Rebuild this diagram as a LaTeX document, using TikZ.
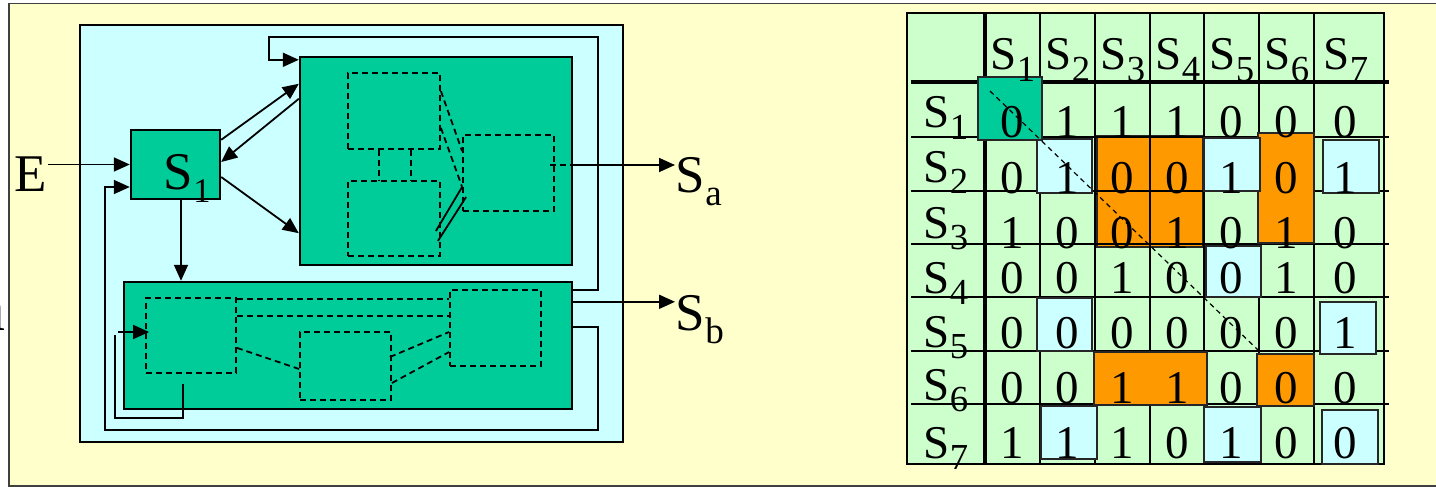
\documentclass[tikz,border=0pt]{standalone}
\usepackage{fontspec}
\setmainfont{Liberation Serif}
\usepackage{graphicx}
\usetikzlibrary{arrows.meta,fit}
\definecolor{paper}{HTML}{FFFFCC}
\definecolor{sky}{HTML}{CCFFFF}
\definecolor{sgreen}{HTML}{00CC99}
\definecolor{mint}{HTML}{CCFFCC}
\definecolor{amber}{HTML}{FF9900}
\newcommand{\ssub}[2][0.7]{\raisebox{-0.25em}{\scalebox{#1}{#2}}}

\begin{document}
\begin{tikzpicture}[x=1pt,y=-1pt,line width=1.8pt,>={Triangle[length=16pt,width=14pt]},
  big/.style={font=\fontsize{53}{53}\selectfont,inner sep=0pt},
  cell/.style={font=\fontsize{47}{47}\selectfont,inner sep=0pt,anchor=base},
  blk/.style={draw,line width=2.4pt,fill=sgreen,inner sep=0pt},
  dsh/.style={dash pattern=on 6pt off 4pt},
  dbox/.style={draw,dsh,inner sep=0pt},
  hl/.style={draw=black!85,line width=1.8pt}]

\useasboundingbox (0,0) rectangle (1436,487);

% ---- slide background ----
\fill[white] (0,0) rectangle (1436,487);
\draw[fill=paper,draw=black!75,line width=1.8pt] (9,3.5) rectangle (1450,486);
\node[font=\fontsize{66}{66}\selectfont,inner sep=0pt,anchor=base east] (nn) at (6,330) {n};

% ---- left panel: blocks ----
\node[draw,line width=2.4pt,fill=sky,inner sep=0pt,fit={(80,25)(623,442)}] (panel) {};
\node[blk,fit={(131,130)(220,199)}] (S1) {};
\node[big,anchor=base west] (s1lab) at (163,189) {S\ssub[0.65]{1}};
\node[blk,fit={(300,57)(572,265)}] (up) {};
\node[blk,fit={(124,282)(572,409)}] (lo) {};

% dashed sub-blocks
\node[dbox,fit={(348,73)(440,149)}] (u1) {};
\node[dbox,fit={(348,181)(440,256)}] (u2) {};
\node[dbox,fit={(463,135)(554,211)}] (u3) {};
\node[dbox,fit={(146,298)(236,373)}] (l1) {};
\node[dbox,fit={(300,332)(391,400)}] (l2) {};
\node[dbox,fit={(450,290)(541,366)}] (l3) {};

% ---- inputs / outputs ----
\node[big,anchor=base west] (in) at (14,191) {E};
\node[big,anchor=base west] (Sa) at (675,192) {S\ssub{a}};
\node[big,anchor=base west] (Sb) at (675,330) {S\ssub{b}};

\draw[->] (in.east |- S1.west) -- (S1.west);
\coordinate (sa0) at ([yshift=-4pt]up.east);
\draw[dsh] ([xshift=-5pt,yshift=8pt]u3.east) -- (sa0);
\draw[->] (sa0) -- (sa0 -| Sa.west);
\coordinate (sb0) at ([yshift=-21pt]lo.north east);
\draw[->] (sb0) -- (sb0 -| Sb.west);

% ---- S1 links ----
\draw[->] ([yshift=-11pt]S1.north east) -- ([yshift=-28pt]up.north west);
\draw[->] ([yshift=-43pt]up.north west) -- ([yshift=2.5pt]S1.east);
\draw[->] ([yshift=-12.5pt]S1.east) -- ([yshift=33pt]up.south west);
\coordinate (s1b) at ([xshift=5.5pt]S1.south);
\draw[->] (s1b) -- (s1b |- lo.north);

% ---- feedback loops ----
\draw[->] ([yshift=18.5pt]lo.east) -- ++(25,0) -- ++(0,103)
  -| ([xshift=-25pt,yshift=-22.5pt]S1.west) -- ([yshift=-22.5pt]S1.west);
\draw[->] ([yshift=-9pt]lo.north east) -- ++(25,0) -- ++(0,-253)
  -| ([xshift=-30pt,yshift=-4pt]up.north west) -- ([yshift=-4pt]up.north west);
\draw[line width=1.5pt] ([xshift=38pt,yshift=-10pt]l1.south west) -- ++(0,35);
\draw[line width=1.5pt] ([xshift=37pt,yshift=-44pt]l1.south west) -| ++(-67,-83);
\draw[->] ([xshift=-27pt,yshift=3.5pt]l1.west) -- ([xshift=4pt,yshift=3.5pt]l1.west);

% ---- inner links, upper block ----
\draw[dsh] ([xshift=32pt]u1.south west) -- ([xshift=32pt]u2.north west);
\draw[dsh] ([xshift=64pt]u1.south west) -- ([xshift=64pt]u2.north west);
\draw[dsh] ([yshift=-19pt]u1.north east) -- ([yshift=-17pt]u3.north west);
\draw[dsh] ([yshift=22pt]u1.south east) -- ([yshift=25pt]u3.south west);
\draw ([xshift=-5pt,yshift=-12.5pt]u2.east) -- ([yshift=-14pt]u3.west);
\draw ([xshift=-3pt,yshift=-22.5pt]u2.east) -- ([xshift=4pt,yshift=-24pt]u3.west);

% ---- inner links, lower block ----
\draw[dsh] ([yshift=-2pt]l1.north east) -- ([yshift=-10pt]l3.north west);
\draw[dsh] ([yshift=-19pt]l1.north east) -- ([yshift=-27pt]l3.north west);
\draw[dsh] ([yshift=26pt]l1.south east) -- ([yshift=-3pt]l2.west);
\draw[dsh] ([xshift=-2pt,yshift=9pt]l2.east) -- ([yshift=-4pt]l3.west);
\draw[dsh] ([yshift=-17pt]l2.east) -- ([yshift=-24pt]l3.west);

% ---- matrix ----
\fill[mint] (907,13) rectangle (1384,464);
\filldraw[fill=amber,hl] (1097,136) rectangle (1203,247);
\foreach \x in {1040,1095,1150,1204,1259,1314}
  \draw (\x,13) -- (\x,464);
\foreach \y in {137,191,244,297,351,404}
  \draw (911,\y) -- (1389,\y);
\draw[line width=4.5pt] (985,13) -- (985,464);
\draw[line width=3.5pt] (911,82) -- (1389,82);
\draw[line width=2.4pt] (907,13) rectangle (1384,464);

% highlighted cells
\foreach \a/\b/\c/\d in {1258/133/1314/243,1094/352/1207/405,1257/354/1314/406}
  \filldraw[fill=amber,hl] (\a,\b) rectangle (\c,\d);
\foreach \a/\b/\c/\d in {1037/139/1092/193,1204/138/1260/191,1323/140/1379/193,
    1206/246/1261/297,1037/298/1092/351,1320/302/1376/354,
    1041/406/1097/459,1204/407/1261/462,1322/410/1378/464}
  \filldraw[fill=sky,hl] (\a,\b) rectangle (\c,\d);
\filldraw[fill=sgreen,hl,line width=2.4pt] (978,77) rectangle (1042,140);

% headers
\foreach \k/\xc in {1/1013,2/1068,3/1123,4/1178,5/1232,6/1287,7/1346}
  \node[cell] (c\k) at (\xc,70) {S\ssub[0.78]{\k}};
\foreach \k/\yb in {1/128,2/182,3/238,4/293,5/347,6/400,7/458}
  \node[cell] (r\k) at (946,\yb) {S\ssub[0.78]{\k}};

% entries
\foreach \yb/\row [count=\i] in {137/{0,1,1,1,0,0,0},193/{0,1,0,0,1,0,1},
    248/{1,0,0,1,0,1,0},293/{0,0,1,0,0,1,0},348/{0,0,0,0,0,0,1},
    403/{0,0,1,1,0,0,0},458/{1,1,1,0,1,0,0}}{
  \foreach \v [count=\j] in \row {
    \pgfmathsetmacro{\xc}{{1012.5,1067.5,1122.5,1177,1231.5,1286.5,1345}[\j-1]}
    \node[cell] (v\i\j) at (\xc,\yb) {\v};
  }
}

% diagonal
\draw[line width=1.2pt,dash pattern=on 5pt off 4pt] (990,91) -- (1259,351);

\end{tikzpicture}
\end{document}
